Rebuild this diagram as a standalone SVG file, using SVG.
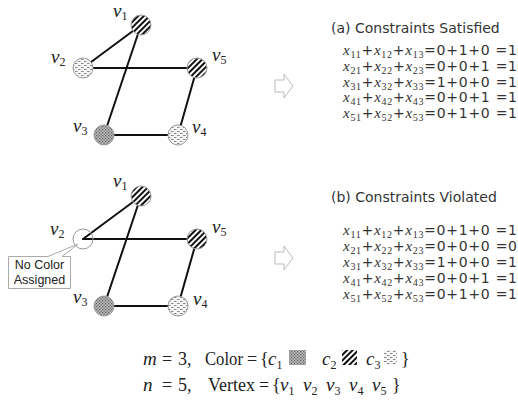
<svg xmlns="http://www.w3.org/2000/svg" width="518" height="400" viewBox="0 0 518 400">
<defs>
<pattern id="c1" width="3" height="3" patternUnits="userSpaceOnUse"><rect width="3" height="3" fill="#bdbdbd"/><path d="M0 0h1.2v1.2H0zM1.5 1.5h1.2v1.2h-1.2z" fill="#5a5a5a"/></pattern>
<pattern id="c2" width="4" height="4" patternUnits="userSpaceOnUse" patternTransform="rotate(45)"><rect width="4" height="4" fill="#fff"/><rect width="2" height="4" fill="#111"/></pattern>
<pattern id="c3" width="6" height="4" patternUnits="userSpaceOnUse"><rect width="6" height="4" fill="#f6f6f6"/><rect x="0" y="1" width="2.5" height="0.9" fill="#7a7a7a"/><rect x="3" y="3" width="2.5" height="0.9" fill="#7a7a7a"/></pattern>
</defs>
<style>
.edge{stroke:#111;stroke-width:2;fill:none;stroke-linecap:round}
.node{stroke:#999;stroke-width:1}
.lbl{font-family:"Liberation Serif",serif;font-style:italic;font-size:19px;fill:#222}
.sub{font-size:12px;font-style:normal}
.hdr{font-family:"DejaVu Sans",sans-serif;font-size:14px;fill:#333}
.eq{font-family:"DejaVu Sans",sans-serif;font-size:14px;fill:#333}
.x{font-family:"Liberation Serif",serif;font-style:italic;font-size:15px}
.xs{font-family:"Liberation Serif",serif;font-size:10px}
.arrow{fill:#fff;stroke:#bbb;stroke-width:1}
.call{fill:#fff;stroke:#aaa;stroke-width:1}
.ct{font-family:"Liberation Sans",Arial,sans-serif;font-size:12.5px;fill:#222;text-anchor:middle}
.f{font-family:"Liberation Serif",serif;font-size:18px;fill:#222}
.fi{font-style:italic;font-size:19px}
.fs{font-size:12px;font-style:normal}
</style>

<!-- top graph -->
<g id="edges-a">
<line class="edge" x1="141" y1="25" x2="83" y2="68"/>
<line class="edge" x1="141" y1="25" x2="104" y2="135"/>
<line class="edge" x1="83" y1="68" x2="197" y2="68"/>
<line class="edge" x1="197" y1="68" x2="178" y2="135"/>
<line class="edge" x1="104" y1="135" x2="178" y2="135"/>
</g>
<g id="a-v1"><circle class="node" cx="141" cy="25" r="10" fill="url(#c2)"/><text class="lbl" x="113" y="17">v<tspan class="sub" dy="3">1</tspan></text></g>
<g id="a-v2"><circle class="node" cx="83" cy="68" r="10" fill="url(#c3)"/><text class="lbl" x="51" y="63">v<tspan class="sub" dy="3">2</tspan></text></g>
<g id="a-v5"><circle class="node" cx="197" cy="68" r="10" fill="url(#c2)"/><text class="lbl" x="212" y="61">v<tspan class="sub" dy="3">5</tspan></text></g>
<g id="a-v3"><circle class="node" cx="104" cy="135" r="10" fill="url(#c1)"/><text class="lbl" x="73" y="132">v<tspan class="sub" dy="3">3</tspan></text></g>
<g id="a-v4"><circle class="node" cx="178" cy="135" r="10" fill="url(#c3)"/><text class="lbl" x="192" y="133">v<tspan class="sub" dy="3">4</tspan></text></g>

<!-- bottom graph -->
<g id="edges-b">
<line class="edge" x1="141" y1="196" x2="83" y2="239"/>
<line class="edge" x1="141" y1="196" x2="104" y2="306"/>
<line class="edge" x1="83" y1="239" x2="197" y2="239"/>
<line class="edge" x1="197" y1="239" x2="178" y2="306"/>
<line class="edge" x1="104" y1="306" x2="178" y2="306"/>
</g>
<g id="b-v1"><circle class="node" cx="141" cy="196" r="10" fill="url(#c2)"/><text class="lbl" x="113" y="187">v<tspan class="sub" dy="3">1</tspan></text></g>
<g id="b-v2"><circle class="node" cx="83" cy="239" r="10" fill="none"/><text class="lbl" x="50" y="235">v<tspan class="sub" dy="3">2</tspan></text></g>
<g id="b-v5"><circle class="node" cx="197" cy="239" r="10" fill="url(#c2)"/><text class="lbl" x="212" y="233">v<tspan class="sub" dy="3">5</tspan></text></g>
<g id="b-v3"><circle class="node" cx="104" cy="306" r="10" fill="url(#c1)"/><text class="lbl" x="73" y="303">v<tspan class="sub" dy="3">3</tspan></text></g>
<g id="b-v4"><circle class="node" cx="178" cy="306" r="10" fill="url(#c3)"/><text class="lbl" x="193" y="305">v<tspan class="sub" dy="3">4</tspan></text></g>

<g id="callout">
<path class="call" d="M8.5 256.5H48L78 244L62 256.5H70.5V288.5H8.5Z"/>
<text class="ct" x="39.5" y="269">No Color</text>
<text class="ct" x="39.5" y="284">Assigned</text>
</g>

<!-- arrows -->
<path class="arrow" d="M275 80H284V74L293 86L284 98V92H275Z"/>
<path class="arrow" d="M275 252H284V246L293 258L284 270V264H275Z"/>

<!-- (a) -->
<g id="panel-a">
<text class="hdr" x="331" y="33">(a) Constraints Satisfied</text>
<text class="eq" x="343" y="55" textLength="174" lengthAdjust="spacing"><tspan class="x">x</tspan><tspan class="xs" dy="3">11</tspan><tspan dy="-3">+</tspan><tspan class="x">x</tspan><tspan class="xs" dy="3">12</tspan><tspan dy="-3">+</tspan><tspan class="x">x</tspan><tspan class="xs" dy="3">13</tspan><tspan dy="-3">=0+1+0 =1</tspan></text>
<text class="eq" x="343" y="71" textLength="174" lengthAdjust="spacing"><tspan class="x">x</tspan><tspan class="xs" dy="3">21</tspan><tspan dy="-3">+</tspan><tspan class="x">x</tspan><tspan class="xs" dy="3">22</tspan><tspan dy="-3">+</tspan><tspan class="x">x</tspan><tspan class="xs" dy="3">23</tspan><tspan dy="-3">=0+0+1 =1</tspan></text>
<text class="eq" x="343" y="87" textLength="174" lengthAdjust="spacing"><tspan class="x">x</tspan><tspan class="xs" dy="3">31</tspan><tspan dy="-3">+</tspan><tspan class="x">x</tspan><tspan class="xs" dy="3">32</tspan><tspan dy="-3">+</tspan><tspan class="x">x</tspan><tspan class="xs" dy="3">33</tspan><tspan dy="-3">=1+0+0 =1</tspan></text>
<text class="eq" x="343" y="102" textLength="174" lengthAdjust="spacing"><tspan class="x">x</tspan><tspan class="xs" dy="3">41</tspan><tspan dy="-3">+</tspan><tspan class="x">x</tspan><tspan class="xs" dy="3">42</tspan><tspan dy="-3">+</tspan><tspan class="x">x</tspan><tspan class="xs" dy="3">43</tspan><tspan dy="-3">=0+0+1 =1</tspan></text>
<text class="eq" x="343" y="118" textLength="174" lengthAdjust="spacing"><tspan class="x">x</tspan><tspan class="xs" dy="3">51</tspan><tspan dy="-3">+</tspan><tspan class="x">x</tspan><tspan class="xs" dy="3">52</tspan><tspan dy="-3">+</tspan><tspan class="x">x</tspan><tspan class="xs" dy="3">53</tspan><tspan dy="-3">=0+1+0 =1</tspan></text>
</g>

<!-- (b) -->
<g id="panel-b">
<text class="hdr" x="331" y="202">(b) Constraints Violated</text>
<text class="eq" x="343" y="235" textLength="174" lengthAdjust="spacing"><tspan class="x">x</tspan><tspan class="xs" dy="3">11</tspan><tspan dy="-3">+</tspan><tspan class="x">x</tspan><tspan class="xs" dy="3">12</tspan><tspan dy="-3">+</tspan><tspan class="x">x</tspan><tspan class="xs" dy="3">13</tspan><tspan dy="-3">=0+1+0 =1</tspan></text>
<text class="eq" x="343" y="251" textLength="174" lengthAdjust="spacing"><tspan class="x">x</tspan><tspan class="xs" dy="3">21</tspan><tspan dy="-3">+</tspan><tspan class="x">x</tspan><tspan class="xs" dy="3">22</tspan><tspan dy="-3">+</tspan><tspan class="x">x</tspan><tspan class="xs" dy="3">23</tspan><tspan dy="-3">=0+0+0 =0</tspan></text>
<text class="eq" x="343" y="267" textLength="174" lengthAdjust="spacing"><tspan class="x">x</tspan><tspan class="xs" dy="3">31</tspan><tspan dy="-3">+</tspan><tspan class="x">x</tspan><tspan class="xs" dy="3">32</tspan><tspan dy="-3">+</tspan><tspan class="x">x</tspan><tspan class="xs" dy="3">33</tspan><tspan dy="-3">=1+0+0 =1</tspan></text>
<text class="eq" x="343" y="283" textLength="174" lengthAdjust="spacing"><tspan class="x">x</tspan><tspan class="xs" dy="3">41</tspan><tspan dy="-3">+</tspan><tspan class="x">x</tspan><tspan class="xs" dy="3">42</tspan><tspan dy="-3">+</tspan><tspan class="x">x</tspan><tspan class="xs" dy="3">43</tspan><tspan dy="-3">=0+0+1 =1</tspan></text>
<text class="eq" x="343" y="299" textLength="174" lengthAdjust="spacing"><tspan class="x">x</tspan><tspan class="xs" dy="3">51</tspan><tspan dy="-3">+</tspan><tspan class="x">x</tspan><tspan class="xs" dy="3">52</tspan><tspan dy="-3">+</tspan><tspan class="x">x</tspan><tspan class="xs" dy="3">53</tspan><tspan dy="-3">=0+1+0 =1</tspan></text>
</g>

<!-- legend -->
<g id="legend">
<text class="f fi" x="143" y="365">m</text>
<text class="f" x="162" y="365">=</text>
<text class="f" x="178" y="365">3,</text>
<text class="f" x="205" y="365" textLength="38" lengthAdjust="spacingAndGlyphs">Color</text>
<text class="f" x="247" y="365">=</text>
<text class="f" x="260" y="365">{</text>
<text class="f fi" x="268" y="365">c<tspan class="fs" dy="4">1</tspan></text>
<rect x="289" y="350" width="17" height="15" fill="url(#c1)"/>
<text class="f fi" x="322" y="365">c<tspan class="fs" dy="4">2</tspan></text>
<rect x="342" y="350" width="15" height="15" fill="url(#c2)"/>
<text class="f fi" x="366" y="365">c<tspan class="fs" dy="4">3</tspan></text>
<rect x="384" y="350" width="13" height="15" fill="url(#c3)"/>
<text class="f" x="401" y="365">}</text>

<text class="f fi" x="143" y="391">n</text>
<text class="f" x="162" y="391">=</text>
<text class="f" x="178" y="391">5,</text>
<text class="f" x="208" y="391">Vertex</text>
<text class="f" x="259" y="391">=</text>
<text class="f" x="272" y="391">{</text>
<text class="f fi" x="280" y="391">v<tspan class="fs" dy="4">1</tspan></text>
<text class="f fi" x="303" y="391">v<tspan class="fs" dy="4">2</tspan></text>
<text class="f fi" x="326" y="391">v<tspan class="fs" dy="4">3</tspan></text>
<text class="f fi" x="349" y="391">v<tspan class="fs" dy="4">4</tspan></text>
<text class="f fi" x="372" y="391">v<tspan class="fs" dy="4">5</tspan></text>
<text class="f" x="392" y="391">}</text>
</g>
</svg>
